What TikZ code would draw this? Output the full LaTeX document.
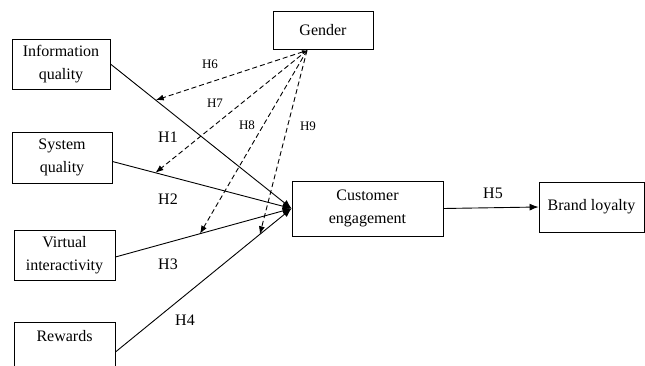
\documentclass[tikz,border=0pt]{standalone}
\usepackage{fontspec}
\setmainfont{Liberation Serif}
\usetikzlibrary{arrows.meta}
\tikzset{
  varbox/.style={draw,rectangle,line width=0.9pt,align=center,inner sep=0pt,
    font=\fontsize{16}{22.5}\selectfont},
  hyp/.style={font=\fontsize{16}{18}\selectfont},
  modhyp/.style={font=\fontsize{13}{15}\selectfont},
  path/.style={line width=0.9pt,-{Latex[length=9pt,width=7pt]}},
  modpath/.style={line width=0.9pt,dash pattern=on 5pt off 3pt,-{Latex[length=8pt,width=6pt]}}
}
\begin{document}
\begin{tikzpicture}[x=1pt,y=-1pt]
  \useasboundingbox (0,0) rectangle (645,366);

  \node[varbox,minimum width=98pt,minimum height=50pt] (info) at (61,64) {Information\\quality};
  \node[varbox,minimum width=100pt,minimum height=51pt] (sys) at (62,157.5) {System\\quality};
  \node[varbox,minimum width=101pt,minimum height=50pt] (virt) at (64.5,255) {Virtual\\interactivity};
  \node[varbox,minimum width=101pt,minimum height=50pt] (rew) at (64.5,347) {Rewards\\\mbox{}};
  \node[varbox,minimum width=100pt,minimum height=38pt] (gender) at (323,30) {Gender};
  \node[varbox,minimum width=151pt,minimum height=55pt] (ce) at (367.5,208.5) {Customer\\engagement};
  \node[varbox,minimum width=105pt,minimum height=50pt] (brand) at (591.5,207) {Brand loyalty};

  % direct paths
  \draw[path] (info.east) -- coordinate[pos=0.25] (m1) (ce.west);
  \draw[path] ([yshift=-4pt]sys.east) -- coordinate[pos=0.24] (m2) (ce.west);
  \draw[path] ([yshift=-2pt]virt.east) -- coordinate[pos=0.48] (m3) (ce.west);
  \draw[path] ([yshift=-5pt]rew.east) -- coordinate[pos=0.82] (m4) (ce.west);
  \draw[path] (ce.east) -- (brand.west);

  % moderation by gender
  \coordinate (g) at ([xshift=-16pt,yshift=-1pt]gender.south);
  \draw[modpath,{Latex[length=5pt,width=4pt]}-{Latex[length=8pt,width=6pt]}] (g) -- (m1);
  \draw[modpath] (g) -- (m2);
  \draw[modpath] (g) -- (m3);
  \draw[modpath] (g) -- (m4);

  \node[hyp] (h1) at (168,137) {H1};
  \node[hyp] (h2) at (168,199) {H2};
  \node[hyp] (h3) at (168,264) {H3};
  \node[hyp] (h4) at (185,320) {H4};
  \node[hyp] (h5) at (493,193) {H5};
  \node[modhyp] (h6) at (210,64) {H6};
  \node[modhyp] (h7) at (215,103) {H7};
  \node[modhyp] (h8) at (247,125) {H8};
  \node[modhyp] (h9) at (308,126) {H9};
\end{tikzpicture}
\end{document}
